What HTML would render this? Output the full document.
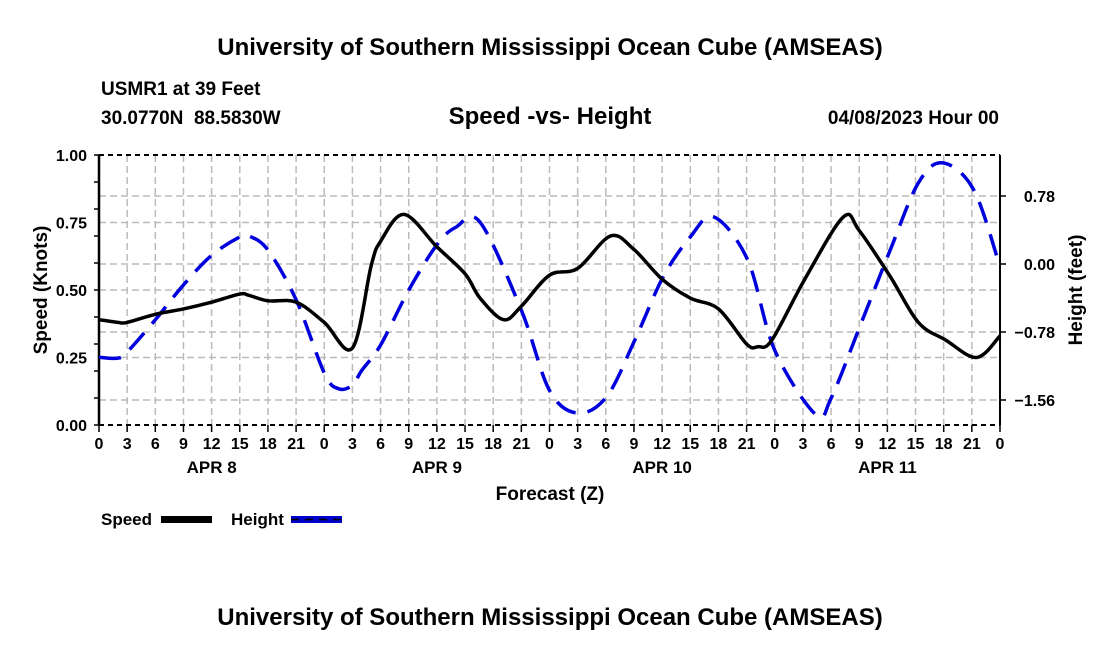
<!DOCTYPE html>
<html><head><meta charset="utf-8"><style>
body{margin:0;background:#fff;}
svg{display:block;font-family:"Liberation Sans",sans-serif;font-weight:bold;}
</style></head><body>
<svg id="c" width="1100" height="650" viewBox="0 0 1100 650">
<text x="550" y="55" text-anchor="middle" font-size="24">University of Southern Mississippi Ocean Cube (AMSEAS)</text>
<text x="101" y="95" font-size="19">USMR1 at 39 Feet</text>
<text x="101" y="124" font-size="19">30.0770N&#160;&#160;88.5830W</text>
<text x="550" y="124" text-anchor="middle" font-size="24">Speed -vs- Height</text>
<text x="999" y="124" text-anchor="end" font-size="19">04/08/2023 Hour 00</text>
<text x="550" y="625" text-anchor="middle" font-size="24">University of Southern Mississippi Ocean Cube (AMSEAS)</text>
<g id="grid"></g>
<g id="axes"></g>
<g id="series"></g>
<text x="47" y="290" text-anchor="middle" font-size="19" transform="rotate(-90 47 290)">Speed (Knots)</text>
<text x="1082" y="290" text-anchor="middle" font-size="19" transform="rotate(-90 1082 290)">Height (feet)</text>
<text x="550" y="500" text-anchor="middle" font-size="19">Forecast (Z)</text>
<g>
<text x="101" y="525" font-size="17">Speed</text>
<rect x="161" y="516" width="51" height="7" fill="#000"/>
<text x="231" y="525" font-size="17">Height</text>
<rect x="291" y="516" width="51" height="7" fill="#0000cc"/>
<line x1="291" y1="519.5" x2="342" y2="519.5" stroke="#000" stroke-width="1.5" stroke-dasharray="8 6"/>
</g>
</svg>
<script>
const speedHours=[0,2,3,6,9,12,15,16,18,21,24,27,29,30,32.5,36,39,40.6,43.1,45,48,51,54.5,57,60,63,66,69,70.2,71.7,75.2,79.3,81,84.3,87.3,90.2,93.5,96];
const speedValues=[0.39,0.38,0.38,0.41,0.43,0.455,0.485,0.48,0.46,0.455,0.38,0.285,0.59,0.68,0.78,0.66,0.56,0.47,0.39,0.44,0.555,0.58,0.70,0.65,0.54,0.47,0.43,0.30,0.29,0.315,0.54,0.77,0.72,0.55,0.38,0.315,0.25,0.33];
const heightHours=[0,2,3,6,9,12,15,16,18,21,24,25.5,27,28,30,33,36,38,40.6,45,48,51,54.1,57.1,60.1,63,65.5,69.1,72,76.4,78,81.2,84.3,87.3,89.9,93.2,96];
const heightValues=[-1.07,-1.08,-1.01,-0.64,-0.24,0.10,0.31,0.32,0.16,-0.41,-1.25,-1.43,-1.39,-1.22,-0.93,-0.30,0.22,0.42,0.48,-0.53,-1.45,-1.71,-1.52,-0.87,-0.15,0.31,0.54,0.05,-0.99,-1.73,-1.54,-0.68,0.16,0.93,1.16,0.85,-0.03];
const xTickLabels=["0","3","6","9","12","15","18","21"];
const dayLabels=["APR 8","APR 9","APR 10","APR 11"];
const speedTicks=[0,0.25,0.5,0.75,1.0];
const heightTicks=[-1.56,-0.78,0,0.78];
</script>
<script>
(function(){
const NS="http://www.w3.org/2000/svg";
const X0=99,X1=1000,Y0=425,Y1=155;
const x=h=>X0+h*(X1-X0)/96;
const ys=s=>Y0-s*(Y0-Y1);
const yh=v=>264-v*68/0.78;
function mk(p,t,a){const e=document.createElementNS(NS,t);for(const k in a)e.setAttribute(k,a[k]);document.getElementById(p).appendChild(e);return e;}
for(let h=3;h<96;h+=3){const e=mk('grid','line',{x1:x(h),x2:x(h),y1:Y1,y2:Y0,stroke:'#bbb','stroke-width':1.5,'stroke-dasharray':'7 4'});

}
speedTicks.forEach(s=>{if(s>0&&s<1){const e=mk('grid','line',{x1:X0,x2:X1,y1:ys(s),y2:ys(s),stroke:'#bbb','stroke-width':1.5,'stroke-dasharray':'7 4'});

}});
heightTicks.forEach(v=>{const e=mk('grid','line',{x1:X0,x2:X1,y1:yh(v),y2:yh(v),stroke:'#bbb','stroke-width':1.5,'stroke-dasharray':'7 4'});

});
let e;
e=mk('axes','line',{x1:X0,x2:X0,y1:Y1,y2:Y0,stroke:'#000','stroke-width':2.5});


e=mk('axes','line',{x1:X1,x2:X1,y1:Y1,y2:Y0,stroke:'#000','stroke-width':2});


e=mk('axes','line',{x1:X0,x2:X1,y1:Y1,y2:Y1,stroke:'#000','stroke-width':2,'stroke-dasharray':'5 4'});


e=mk('axes','line',{x1:X0,x2:X1,y1:Y0,y2:Y0,stroke:'#000','stroke-width':2,'stroke-dasharray':'5 4'});


for(let s=0;s<=1.0001;s+=0.1){e=mk('axes','line',{x1:X0-5,x2:X0,y1:ys(s),y2:ys(s),stroke:'#000','stroke-width':1.5});

}
speedTicks.forEach(s=>{e=mk('axes','text',{x:X0-12,y:ys(s)+6,'text-anchor':'end','font-size':16});e.textContent=s.toFixed(2);

});
heightTicks.forEach(v=>{e=mk('axes','line',{x1:X1,x2:X1+6,y1:yh(v),y2:yh(v),stroke:'#000','stroke-width':1.5});


e=mk('axes','text',{x:1055,y:yh(v)+6,'text-anchor':'end','font-size':16});e.textContent=v.toFixed(2).replace('-','\u2212');

});
for(let h=0;h<=96;h+=3){e=mk('axes','line',{x1:x(h),x2:x(h),y1:Y0,y2:Y0+7,stroke:'#000','stroke-width':1.5});


e=mk('axes','text',{x:x(h),y:449,'text-anchor':'middle','font-size':16});e.textContent=xTickLabels[(h/3)%8];

}
dayLabels.forEach((d,i)=>{e=mk('axes','text',{x:x(i*24+12),y:473,'text-anchor':'middle','font-size':17});e.textContent=d;

});
function path(hs,vs,fy){const P=hs.map((h,i)=>[x(h),fy(vs[i])]);let d='M'+P[0][0]+','+P[0][1];
for(let i=0;i<P.length-1;i++){const p0=P[Math.max(0,i-1)],p1=P[i],p2=P[i+1],p3=P[Math.min(P.length-1,i+2)];
const c1=[p1[0]+(p2[0]-p0[0])/6,p1[1]+(p2[1]-p0[1])/6],c2=[p2[0]-(p3[0]-p1[0])/6,p2[1]-(p3[1]-p1[1])/6];
d+=' C'+c1+' '+c2+' '+p2;}return d;}
e=mk('series','path',{d:path(heightHours,heightValues,yh),fill:'none',stroke:'#0000dd','stroke-width':3.5,'stroke-dasharray':'22 12'});


e=mk('series','path',{d:path(speedHours,speedValues,ys),fill:'none',stroke:'#0000' === '' ? '#000' : '#000','stroke-width':3.5});


})();
</script>
</body></html>
